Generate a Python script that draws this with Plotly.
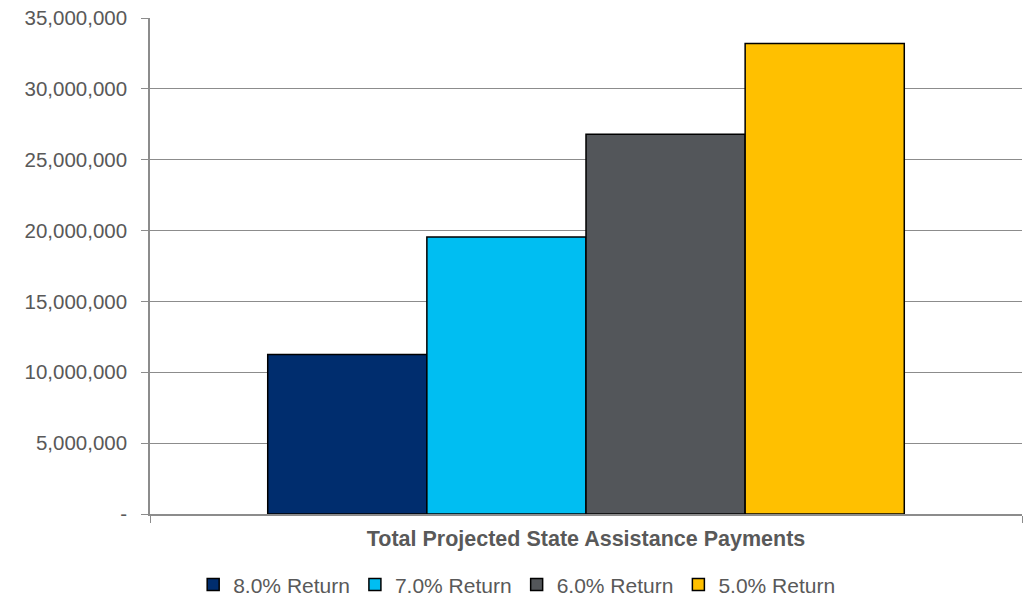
import plotly.graph_objects as go

category = ["Total Projected State Assistance Payments"]
series_names = ["8.0% Return", "7.0% Return", "6.0% Return", "5.0% Return"]
series_values = [11250000, 19550000, 26800000, 33200000]
series_colors = ["#002D6E", "#00BEF2", "#53565A", "#FFC000"]
tick_vals = [0, 5000000, 10000000, 15000000, 20000000, 25000000, 30000000, 35000000]
tick_text = ["-", "5,000,000", "10,000,000", "15,000,000", "20,000,000",
             "25,000,000", "30,000,000", "35,000,000"]

fig = go.Figure()
for name, val, col in zip(series_names, series_values, series_colors):
    fig.add_trace(go.Bar(
        x=category, y=[val], name=name,
        marker=dict(color=col, line=dict(color="#000000", width=1.5)),
    ))

fig.update_layout(
    width=1027, height=601,
    margin=dict(l=150, r=5, t=18, b=87),
    barmode="group", bargap=0.27, bargroupgap=0,
    plot_bgcolor="white", paper_bgcolor="white",
    font=dict(family="Liberation Sans, Arial, sans-serif", size=21, color="#595959"),
    legend=dict(orientation="h", x=0.4205, xanchor="center",
                yref="container", y=0.027, yanchor="middle",
                font=dict(size=21, color="#595959"), itemwidth=30, traceorder="normal"),
    showlegend=True,
)
fig.update_yaxes(
    range=[0, 35000000], tickvals=tick_vals, ticktext=tick_text,
    showgrid=True, gridcolor="#8C8C8C", gridwidth=1,
    showline=True, linecolor="#8C8C8C", linewidth=1.5,
    ticks="outside", ticklen=7, tickcolor="#8C8C8C", ticklabelstandoff=10,
    tickfont=dict(size=20.5, color="#595959"), zeroline=False, automargin=False,
)
fig.update_xaxes(
    showline=True, linecolor="#8C8C8C", linewidth=1.5,
    ticks="outside", ticklen=7, tickcolor="#8C8C8C", tickson="boundaries",
    ticklabelstandoff=4, tickangle=0,
    tickfont=dict(size=21.5, color="#595959", weight="bold"), automargin=False,
)

fig.write_html("out.html", config={"displayModeBar": False},
               post_script="document.body.style.margin='0';")
